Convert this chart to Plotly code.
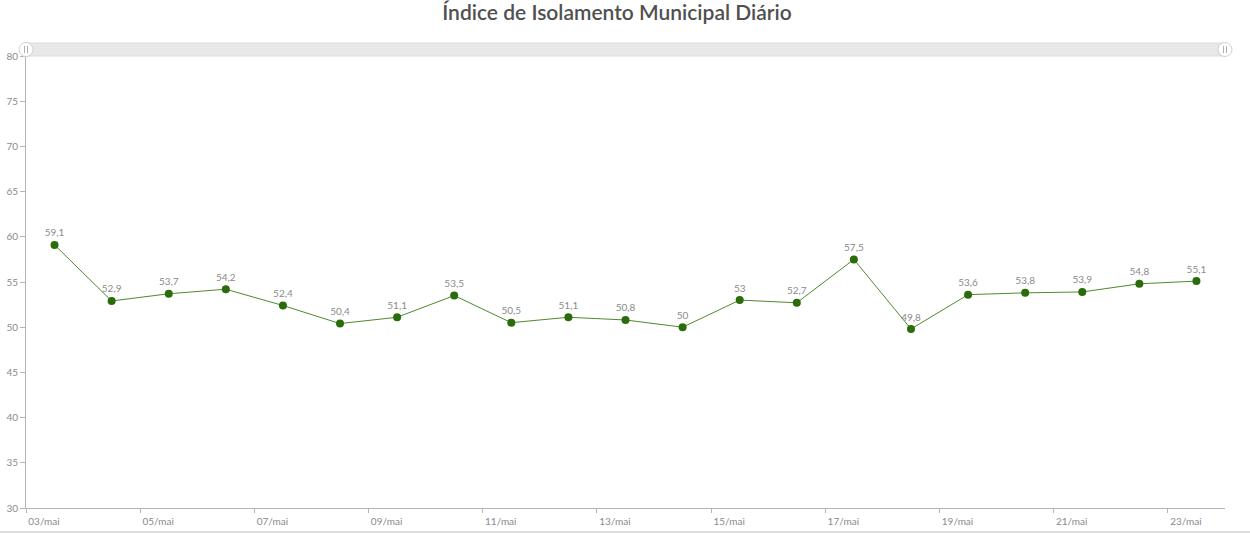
import pandas as pd
import plotly.graph_objects as go

# daily municipal isolation index, May
dates = [
    "2020-05-03", "2020-05-04", "2020-05-05", "2020-05-06", "2020-05-07",
    "2020-05-08", "2020-05-09", "2020-05-10", "2020-05-11", "2020-05-12",
    "2020-05-13", "2020-05-14", "2020-05-15", "2020-05-16", "2020-05-17",
    "2020-05-18", "2020-05-19", "2020-05-20", "2020-05-21", "2020-05-22",
    "2020-05-23",
]
isolamento = [
    59.1, 52.9, 53.7, 54.2, 52.4, 50.4, 51.1, 53.5, 50.5, 51.1, 50.8,
    50, 53, 52.7, 57.5, 49.8, 53.6, 53.8, 53.9, 54.8, 55.1,
]

TITLE = "Índice de Isolamento Municipal Diário"
FONT = "Lato, 'Open Sans', sans-serif"
AXIS_GREY = "#b5b5b5"
TEXT_GREY = "#8a8a8a"

W, H = 1250, 535
ML, MR, MT, MB = 26, 25, 56, 27
PW, PH = W - ML - MR, H - MT - MB

# points sit in the middle of each day, like the original date axis
x_mid = pd.to_datetime(dates) + pd.Timedelta(hours=12)
labels = [f"{v:g}".replace(".", ",") for v in isolamento]

fig = go.Figure()
fig.add_trace(
    go.Scatter(
        x=x_mid,
        y=isolamento,
        mode="lines+markers+text",
        text=labels,
        textposition="top center",
        textfont=dict(size=10, color=TEXT_GREY, family=FONT),
        line=dict(color="#4e8a2c", width=1),
        marker=dict(color="#2a6b0c", size=8),
        cliponaxis=False,
        hoverinfo="x+y",
    )
)

fig.update_layout(
    width=W,
    height=H,
    margin=dict(l=ML, r=MR, t=MT, b=MB),
    paper_bgcolor="white",
    plot_bgcolor="white",
    showlegend=False,
    font=dict(family=FONT, color=TEXT_GREY, size=10),
    separators=",.",
    title=dict(
        text=TITLE,
        x=617 / W,
        xanchor="center",
        y=1 - 13 / H,
        yref="container",
        yanchor="middle",
        font=dict(family=FONT, size=21, color="#505050", weight=600),
    ),
)

fig.update_xaxes(
    type="date",
    range=["2020-05-03", "2020-05-24"],
    tick0="2020-05-03",
    dtick=2 * 86400000,
    tickformat="%d/mai",
    ticks="outside",
    ticklen=4,
    tickcolor=AXIS_GREY,
    ticklabelshift=18,
    showline=True,
    linecolor=AXIS_GREY,
    showgrid=False,
    zeroline=False,
    automargin=False,
    tickfont=dict(size=10, color=TEXT_GREY),
)
fig.update_yaxes(
    range=[30, 80],
    dtick=5,
    ticks="outside",
    ticklen=5,
    tickcolor=AXIS_GREY,
    showline=True,
    linecolor=AXIS_GREY,
    showgrid=False,
    zeroline=False,
    automargin=False,
    tickfont=dict(size=10, color=TEXT_GREY),
)

# scrollbar strip above the plot, with its two round grips
bar_top = 1 + 13 / PH
bar_mid = 1 + 6.5 / PH
fig.add_shape(type="rect", xref="paper", yref="paper",
              x0=0, x1=1, y0=1, y1=bar_top,
              fillcolor="#e8e8e8", line=dict(color="#dcdcdc", width=1),
              layer="below")
for gx in (0, 1):
    fig.add_shape(type="circle", xref="paper", yref="paper",
                  xsizemode="pixel", ysizemode="pixel",
                  xanchor=gx, yanchor=bar_mid,
                  x0=-7, x1=7, y0=-7, y1=7,
                  fillcolor="white", line=dict(color="#d0d0d0", width=1))
    for dx in (-1.5, 1.5):
        fig.add_shape(type="line", xref="paper", yref="paper",
                      xsizemode="pixel", ysizemode="pixel",
                      xanchor=gx, yanchor=bar_mid,
                      x0=dx, x1=dx, y0=-3.5, y1=3.5,
                      line=dict(color="#b0b0b0", width=1))

# thin frame line at the bottom of the widget
fig.add_shape(type="line", xref="paper", yref="paper",
              x0=-ML / PW, x1=1 + MR / PW, y0=-24 / PH, y1=-24 / PH,
              line=dict(color="#dddddd", width=2))

# the page body has a default 8px margin; drop it so the chart fills the window
fig.write_html(
    "out.html",
    config={"displayModeBar": False},
    post_script="document.body.style.margin='0';",
)
